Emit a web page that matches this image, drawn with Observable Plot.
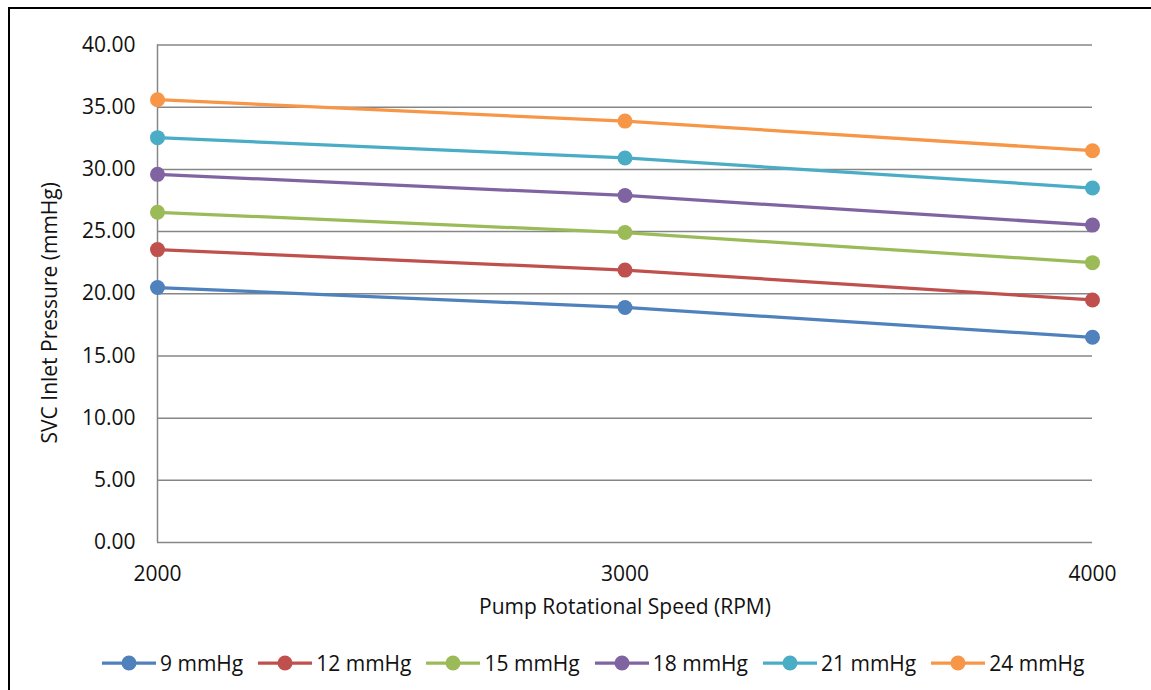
<!DOCTYPE html>
<html>
<head>
<meta charset="utf-8">
<script src="https://cdn.jsdelivr.net/npm/d3@7"></script>
<script src="https://cdn.jsdelivr.net/npm/@observablehq/plot@0.6"></script>
<style>
  html, body { margin: 0; padding: 0; background: #fff; }
  body { width: 1151px; height: 690px; position: relative; overflow: hidden; font-family: "Open Sans", sans-serif; }
  #frame { position: absolute; left: 8px; top: 7px; width: 1200px; height: 720px; border-left: 2px solid #000; border-top: 2px solid #000; }
  #chart { position: absolute; left: 0; top: 0; }
  #legend { position: absolute; left: 102px; top: 651px; height: 24px; display: flex; align-items: center; gap: 15px; font-size: 21px; line-height: 24px; color: #111; white-space: nowrap; }
  .item { display: flex; align-items: center; }
  .item svg { display: block; margin-right: 4px; }
</style>
</head>
<body>
<div id="frame"></div>
<div id="chart"></div>
<div id="legend"></div>
<script>
// ---- data ----
const rpm = [2000, 3000, 4000];
const seriesNames = ["9 mmHg", "12 mmHg", "15 mmHg", "18 mmHg", "21 mmHg", "24 mmHg"];
const p9  = [20.5, 18.9, 16.5];
const p12 = [23.55, 21.9, 19.5];
const p15 = [26.55, 24.92, 22.5];
const p18 = [29.6, 27.9, 25.52];
const p21 = [32.55, 30.92, 28.5];
const p24 = [35.6, 33.88, 31.5];
const seriesColors = ["#4F81BD", "#C0504D", "#9BBB59", "#8064A2", "#4BACC6", "#F79646"];
const yTicks = [0, 5, 10, 15, 20, 25, 30, 35, 40];
const xTitle = "Pump Rotational Speed (RPM)";
const yTitle = "SVC Inlet Pressure (mmHg)";

const values = [p9, p12, p15, p18, p21, p24];
const rows = [];
seriesNames.forEach((name, i) => rpm.forEach((r, j) => rows.push({rpm: r, p: values[i][j], series: name})));

const fmtY = d3.format(".2f");
const chart = Plot.plot({
  width: 1151,
  height: 620,
  marginLeft: 157,
  marginRight: 59,
  marginTop: 44.5,
  marginBottom: 78,
  style: {fontFamily: "Open Sans", fontSize: "21px", color: "#111", background: "transparent", overflow: "visible"},
  x: {domain: [rpm[0], rpm[rpm.length - 1]], ticks: rpm, label: null},
  y: {domain: [yTicks[0], yTicks[yTicks.length - 1]], ticks: yTicks, label: null},
  color: {domain: seriesNames, range: seriesColors},
  marks: [
    Plot.gridY(yTicks, {stroke: "#868686", strokeOpacity: 1, strokeWidth: 1.5}),
    Plot.ruleX([rpm[0]], {stroke: "#868686", strokeWidth: 1.5}),
    Plot.axisX(rpm, {tickSize: 0, tickPadding: 24, tickFormat: d => String(d), label: null}),
    Plot.axisY(yTicks, {tickSize: 0, tickPadding: 22, tickFormat: fmtY, label: null}),
    Plot.line(rows, {x: "rpm", y: "p", z: "series", stroke: "series", strokeWidth: 3.25}),
    Plot.dot(rows, {x: "rpm", y: "p", fill: "series", r: 7.5}),
    Plot.text([xTitle], {text: d => d, frameAnchor: "bottom", dy: 71, fontSize: 21, fill: "#111"}),
    Plot.text([yTitle], {text: d => d, frameAnchor: "left", textAnchor: "middle", rotate: -90, dx: -107, dy: 19, fontSize: 21, fill: "#111"})
  ]
});
document.getElementById("chart").appendChild(chart);

// legend
const legend = document.getElementById("legend");
seriesNames.forEach((name, i) => {
  const item = document.createElement("div");
  item.className = "item";
  const c = seriesColors[i];
  item.innerHTML = `<svg width="54" height="18"><line x1="0" y1="9" x2="54" y2="9" stroke="${c}" stroke-width="3.25"/><circle cx="27" cy="9" r="7.5" fill="${c}"/></svg><span>${name}</span>`;
  legend.appendChild(item);
});
</script>
</body>
</html>
